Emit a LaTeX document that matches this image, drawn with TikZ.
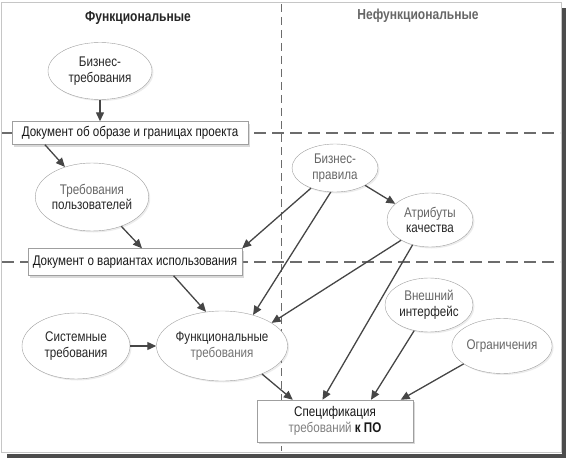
\documentclass[tikz,border=0pt]{standalone}
\usepackage{fontspec}
\setmainfont{Liberation Sans}[FakeStretch=0.83]
\usetikzlibrary{shapes.geometric,arrows.meta,calc,shadows}

\begin{document}
\begin{tikzpicture}[x=1pt, y=-1pt,
    el/.style={ellipse, draw=gray!75, fill=white, inner sep=0pt, align=center,
        font=\fontsize{14}{15.5}\selectfont, text=black!85,
        drop shadow={opacity=0.15, shadow xshift=1.5pt, shadow yshift=-1.5pt}},
    doc/.style={rectangle, draw=gray!75, fill=white, inner sep=0pt, align=center,
        font=\fontsize{14}{15.5}\selectfont, text=black!90,
        drop shadow={opacity=0.3, shadow xshift=2pt, shadow yshift=-2pt}},
    hd/.style={font=\bfseries\fontsize{14.5}{16}\selectfont},
    arr/.style={draw=gray!55!black, line width=1.3pt, -{Triangle[length=9pt,width=8pt]}},
    hsep/.style={gray!85!black, line width=1.8pt, dash pattern=on 12pt off 6pt},
    vsep/.style={gray!85!black, line width=1pt, dash pattern=on 8pt off 5pt}
]
    \useasboundingbox (0,0) rectangle (568,460);

    % frame
    \fill[gray!60!black] (7,454) rectangle (566,458);
    \fill[gray!60!black] (562,8) rectangle (566,458);
    \draw[gray!45, line width=1pt] (1,3) rectangle (561,452);

    % zones
    \draw[vsep] (281,4) -- (281,451);
    \draw[hsep] (2,133) -- (560,133);
    \draw[hsep] (2,262) -- (560,262);
    \node[hd, text=black!85] (tf) at (138,18) {Функциональные};
    \node[hd, text=black!60] (tn) at (418,16) {Нефункциональные};

    % functional
    \node[el, minimum width=104, minimum height=57] (biz) at (100,71) {Бизнес-\\требования};
    \node[doc, minimum width=236, minimum height=23] (vis) at (130,133) {Документ об образе и границах проекта};
    \node[el, minimum width=112, minimum height=68] (usr) at (92,197) {\textcolor{black!60}{Требования}\\пользователей};
    \node[doc, minimum width=214, minimum height=27] (uc) at (135,262) {Документ о вариантах использования};
    \node[el, minimum width=108, minimum height=66] (sys) at (76,346) {Системные\\требования};
    \node[el, minimum width=110, minimum height=70] (fun) at (222,346) {Функциональные\\\textcolor{black!55}{требования}};
    \node[doc, minimum width=156, minimum height=42] (srs) at (335,421) {Спецификация\\\textcolor{black!50}{требований} \textbf{к ПО}};

    % nonfunctional
    \node[el, minimum width=86, minimum height=48, text=black!60] (rul) at (335,168) {Бизнес-\\правила};
    \node[el, minimum width=86, minimum height=54] (qa) at (430,220) {\textcolor{black!60}{Атрибуты}\\качества};
    \node[el, minimum width=88, minimum height=54] (ext) at (429,305) {\textcolor{black!60}{Внешний}\\интерфейс};
    \node[el, minimum width=88, minimum height=55, text=black!60] (con) at (502,346) {Ограничения};

    % arrows
    \draw[arr] (biz.south) -- (biz.south |- vis.north);
    \draw[arr] ($(vis.south west)!0.14!(vis.south east)$) -- (usr);
    \draw[arr] (usr.-45) -- ([xshift=7pt]uc.north);
    \draw[arr] (rul.220) -- (uc.north east);
    \draw[arr] (rul.-30) -- (qa.155);
    \draw[arr] (rul.260) -- (fun.45);
    \draw[arr] (qa.215) -- (fun.25);
    \draw[arr] (qa.235) -- ($(srs.north west)!0.42!(srs.north east)$);
    \draw[arr] ($(uc.south west)!0.68!(uc.south east)$) -- (fun.115);
    \draw[arr] (sys) -- (fun);
    \draw[arr] (fun.-35) -- ($(srs.north west)!0.23!(srs.north east)$);
    \draw[arr] (ext.240) -- ($(srs.north west)!0.73!(srs.north east)$);
    \draw[arr] (con.205) -- ($(srs.north west)!0.92!(srs.north east)$);
\end{tikzpicture}
\end{document}
